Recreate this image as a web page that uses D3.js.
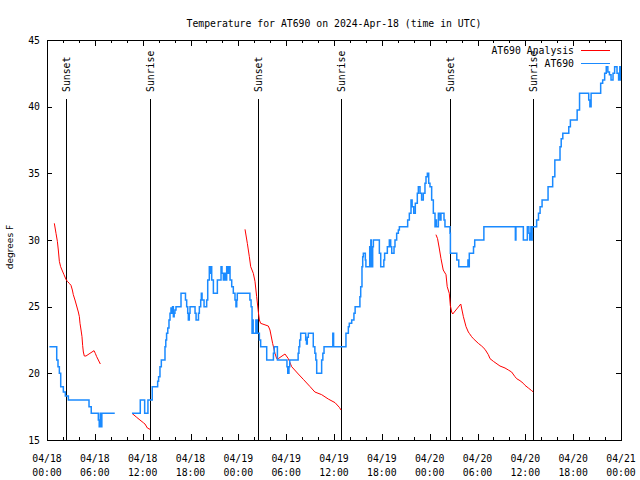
<!DOCTYPE html>
<html><head><meta charset="utf-8">
<script src="https://cdn.jsdelivr.net/npm/d3@7"></script>
<style>body{margin:0;background:#fff}svg{display:block}</style>
</head><body>
<svg id="c" width="640" height="480"></svg>
<script>
// ---------- data ----------
const titleText = "Temperature for AT690 on 2024-Apr-18 (time in UTC)";
const yLabelText = "degrees F";
const yTicks = [15, 20, 25, 30, 35, 40, 45];
const yDomain = [15, 45];
const startUTC = Date.UTC(2024, 3, 18);
const xDomainHours = [0, 72];
const sunEventHours = [2.4, 12.95, 26.5, 36.88, 50.58, 61.0];
const sunEventLabels = ["Sunset", "Sunrise", "Sunset", "Sunrise", "Sunset", "Sunrise"];
const seriesNames = ["AT690 Analysis", "AT690"];
const seriesColors = ["#ff0000", "#1a8aff"];

// analysis (hours since 04/18 00:00 UTC, degF)
const analysisSeg1 = [[0.92,31.25],[1.13,30.5],[1.30,29.9],[1.42,29.25],[1.55,28.4],[1.71,28.0],[1.88,27.75],[2.13,27.4],[2.38,27.05],[2.55,26.9],[2.8,26.75],[3.01,26.6],[3.18,26.25],[3.3,25.9],[3.51,25.5],[3.72,25.05],[3.93,24.6],[4.06,24.25],[4.14,23.75],[4.27,23.25],[4.39,22.75],[4.47,22.1],[4.56,21.6],[4.68,21.3],[4.89,21.3],[5.39,21.5],[5.9,21.7],[6.06,21.5],[6.23,21.25],[6.44,21.0],[6.69,20.7]];
const analysisSeg2 = [[10.66,17.0],[11.25,16.7],[11.66,16.5],[12.08,16.3],[12.29,16.2],[12.59,15.9],[12.92,15.8]];
const analysisSeg3 = [[24.84,30.8],[25.13,29.75],[25.38,28.75],[25.55,28.0],[25.88,27.5],[26.09,26.9],[26.3,25.75],[26.51,24.6],[26.64,24.0],[26.8,23.75],[27.76,23.55],[27.97,23.25],[28.3,22.25],[28.6,21.5],[28.81,21.1],[29.0,21.1],[29.85,21.45],[30.27,21.1],[30.69,20.5],[31.52,19.95],[32.15,19.55],[33.0,19.0],[33.6,18.6],[34.45,18.4],[35.29,18.07],[36.13,17.8],[36.67,17.45],[36.88,17.25]];
const analysisSeg4 = [[48.79,30.4],[48.99,30.1],[49.2,29.4],[49.42,28.6],[49.7,27.75],[50.05,27.4],[50.2,26.5],[50.46,26.0],[50.59,25.1],[50.76,24.6],[50.89,24.45],[51.9,25.2],[52.23,24.25],[52.56,23.5],[52.85,23.1],[52.97,23.0],[53.26,22.75],[53.48,22.6],[54.1,22.25],[54.52,22.05],[54.94,21.8],[55.36,21.4],[55.57,21.1],[55.99,20.9],[56.82,20.55],[57.45,20.4],[57.87,20.25],[58.28,20.1],[58.7,19.75],[58.91,19.6],[59.33,19.45],[59.75,19.25],[59.96,19.1],[60.38,18.9],[60.8,18.7],[61.0,18.6]];

// observations (step values: value starts at hour)
const obsSeg1 = [[0.3,22],[1.22,21],[1.38,20.5],[1.55,20],[1.72,19],[2.05,18.6],[2.3,18.3],[2.68,18],[5.27,17.5],[5.55,17],[6.44,16.5],[6.55,16],[6.68,17],[6.74,16],[6.88,17],[8.5,17]];
const obsSeg2 = [[10.66,17],[11.7,18],[12.25,17],[12.66,18],[13.2,19],[13.88,19.4],[14.0,19.75],[14.17,20.5],[14.34,21],[14.8,22],[14.9,22.5],[15.0,23],[15.15,23.4],[15.3,24],[15.43,24.5],[15.55,24.9],[15.64,24.5],[15.75,25],[15.85,24.25],[15.95,24.5],[16.05,24.75],[16.18,25],[16.81,26],[17.37,25.5],[17.52,25],[17.65,24.5],[17.73,24],[17.85,24.5],[17.94,25],[18.57,24.5],[18.7,24],[18.9,24],[19.0,24.5],[19.11,25],[19.28,25.5],[19.36,26],[19.45,25.5],[19.7,25],[20.03,25.5],[20.16,27],[20.36,28],[20.45,27.5],[20.53,28],[20.66,27],[20.87,26],[21.37,27],[21.83,28],[21.95,27.5],[22.12,27],[22.25,27.5],[22.37,27],[22.54,28],[22.66,27.5],[22.79,28],[22.96,27],[23.17,26.5],[23.37,26],[23.58,25.5],[23.7,25],[23.8,25.5],[23.87,26],[25.45,25.5],[25.6,25],[25.72,23],[25.8,24],[25.86,23],[26.2,24],[26.38,23],[26.64,22.5],[26.8,22],[27.56,21],[28.4,21.5],[28.5,22],[28.9,21],[30.1,20.5],[30.2,20],[30.35,20.5],[30.45,21],[31.5,21.5],[31.6,22],[31.7,22.5],[31.82,23],[32.45,22.5],[32.55,22.2],[32.65,22.7],[32.78,23],[33.4,22],[33.6,21.5],[33.72,21],[33.83,20],[34.45,21],[34.6,21.5],[34.75,22],[35.85,23],[35.95,22],[37.5,23],[37.8,23.5],[37.92,23.75],[38.22,24],[38.5,24.5],[38.65,25],[39.25,25.75],[39.35,26.5],[39.51,28],[39.6,28.75],[39.68,29],[39.93,28.5],[40.0,28],[40.48,29.5],[40.55,28],[40.62,30],[40.68,28],[40.85,29.5],[40.94,30],[41.69,29],[41.86,28],[42.25,28.5],[42.35,29],[42.69,29.5],[42.94,30],[43.11,29.5],[43.24,29],[43.53,29.5],[43.65,30],[43.86,30.5],[44.07,30.75],[44.2,31],[45.24,31.5],[45.45,32],[45.66,33],[45.8,32.5],[46.0,32],[46.2,32.75],[46.45,33.5],[46.58,34],[46.79,33.5],[46.99,33],[47.2,33.5],[47.41,34.25],[47.54,34.75],[47.71,35],[47.88,34.25],[48.04,34],[48.25,33],[48.46,32],[48.67,31],[48.8,31.5],[48.85,31],[49.09,32],[49.29,31.5],[49.42,32],[49.8,31.5],[49.92,31],[50.55,30.5],[50.6,29],[51.4,28.5],[51.65,28],[52.8,28.5],[52.88,28],[52.97,29],[53.5,29.5],[53.65,30],[54.8,31],[58.75,30],[58.82,31],[59.75,30],[60.25,31],[60.45,30.5],[60.55,30],[60.7,31],[60.77,30],[60.85,31],[61.42,31.5],[61.65,32],[61.85,32.5],[62.1,33],[62.85,34],[63.43,34.75],[63.7,36],[64.35,37],[64.5,37.6],[64.7,38],[65.45,38.5],[65.65,39],[66.5,39.75],[66.8,41],[67.95,40.5],[68.1,40],[68.25,41],[69.45,41.75],[69.7,42],[69.95,42.5],[70.15,43],[70.35,42.6],[70.55,42.4],[70.75,42],[71.0,42.5],[71.2,43],[71.5,42.5],[71.7,42],[71.85,43],[71.95,42],[72,42]];

// ---------- drawing ----------
const W = 640, H = 480;
const m = {left: 47, right: 19, top: 40, bottom: 40};
const iw = W - m.left - m.right, ih = H - m.top - m.bottom;
const mono = "'DejaVu Sans Mono', 'Liberation Mono', monospace";
const toDate = h => new Date(startUTC + h * 3600e3);

const svg = d3.select("#c");
const g = svg.append("g").attr("transform", `translate(${m.left},${m.top})`);

const x = d3.scaleUtc().domain(xDomainHours.map(toDate)).range([0, iw]);
const y = d3.scaleLinear().domain(yDomain).range([ih, 0]);

// title
svg.append("text").attr("x", m.left + iw / 2).attr("y", 27)
  .attr("text-anchor", "middle").attr("font-family", mono).attr("font-size", "9.8px")
  .text(titleText);

// y label
svg.append("text").attr("transform", `translate(13,${m.top + ih / 2 + 7}) rotate(-90)`)
  .attr("text-anchor", "middle").attr("font-family", "'DejaVu Sans', sans-serif").attr("font-size", "9px")
  .text(yLabelText);

// ticks
const majorX = d3.utcHour.every(6).range(toDate(0), toDate(72.01));
const minorX = d3.utcHour.every(2).range(toDate(0), toDate(72.01));
const tickG = g.append("g").attr("stroke", "#000").attr("stroke-width", 1).attr("shape-rendering", "crispEdges");
minorX.forEach(d => {
  const xx = Math.round(x(d)) + 0.5;
  const len = majorX.some(e => +e === +d) ? 6 : 3;
  tickG.append("line").attr("x1", xx).attr("x2", xx).attr("y1", ih).attr("y2", ih - len);
  tickG.append("line").attr("x1", xx).attr("x2", xx).attr("y1", 0).attr("y2", len);
});
yTicks.forEach(v => {
  const yy = Math.round(y(v)) + 0.5;
  tickG.append("line").attr("x1", 0).attr("x2", 5).attr("y1", yy).attr("y2", yy);
  tickG.append("line").attr("x1", iw).attr("x2", iw - 5).attr("y1", yy).attr("y2", yy);
});

// tick labels
const fmtD = d3.utcFormat("%m/%d"), fmtT = d3.utcFormat("%H:%M");
const xl = g.append("g").attr("font-family", mono).attr("font-size", "9.8px").attr("text-anchor", "middle");
majorX.forEach(d => {
  xl.append("text").attr("x", x(d)).attr("y", ih + 22).text(fmtD(d));
  xl.append("text").attr("x", x(d)).attr("y", ih + 36).text(fmtT(d));
});
const yl = g.append("g").attr("font-family", mono).attr("font-size", "9.8px").attr("text-anchor", "end");
yTicks.forEach(v => yl.append("text").attr("x", -7).attr("y", y(v) + 3.5).text(v));

// sun events
sunEventHours.forEach((h, i) => {
  const xx = Math.round(x(toDate(h))) + 0.5;
  g.append("line").attr("x1", xx).attr("x2", xx).attr("y1", 59).attr("y2", ih)
    .attr("stroke", "#000").attr("stroke-width", 1).attr("shape-rendering", "crispEdges");
  g.append("text").attr("transform", `translate(${xx},52) rotate(-90)`)
    .attr("dy", "0.35em").attr("font-family", mono).attr("font-size", "9.8px")
    .text(sunEventLabels[i]);
});

// series
const lineA = d3.line().x(d => x(toDate(d[0]))).y(d => y(d[1]));
const lineO = d3.line().x(d => x(toDate(d[0]))).y(d => y(d[1])).curve(d3.curveStepAfter);
[analysisSeg1, analysisSeg2, analysisSeg3, analysisSeg4].forEach(s =>
  g.append("path").datum(s).attr("d", lineA).attr("fill", "none")
    .attr("stroke", seriesColors[0]).attr("stroke-width", 1));
[obsSeg1, obsSeg2].forEach(s =>
  g.append("path").datum(s).attr("d", lineO).attr("fill", "none")
    .attr("stroke", seriesColors[1]).attr("stroke-width", 1.5));

// frame
g.append("rect").attr("x", 0.5).attr("y", 0.5).attr("width", iw).attr("height", ih)
  .attr("fill", "none").attr("stroke", "#000").attr("shape-rendering", "crispEdges");

// legend
seriesNames.forEach((n, i) => {
  const ly = 50 + i * 13;
  svg.append("text").attr("x", 574).attr("y", ly + 4).attr("text-anchor", "end")
    .attr("font-family", mono).attr("font-size", "9.8px").text(n);
  svg.append("line").attr("x1", 581).attr("x2", 610).attr("y1", ly + 0.5).attr("y2", ly + 0.5)
    .attr("stroke", seriesColors[i]).attr("stroke-width", 1).attr("shape-rendering", "crispEdges");
});
</script>
</body></html>
